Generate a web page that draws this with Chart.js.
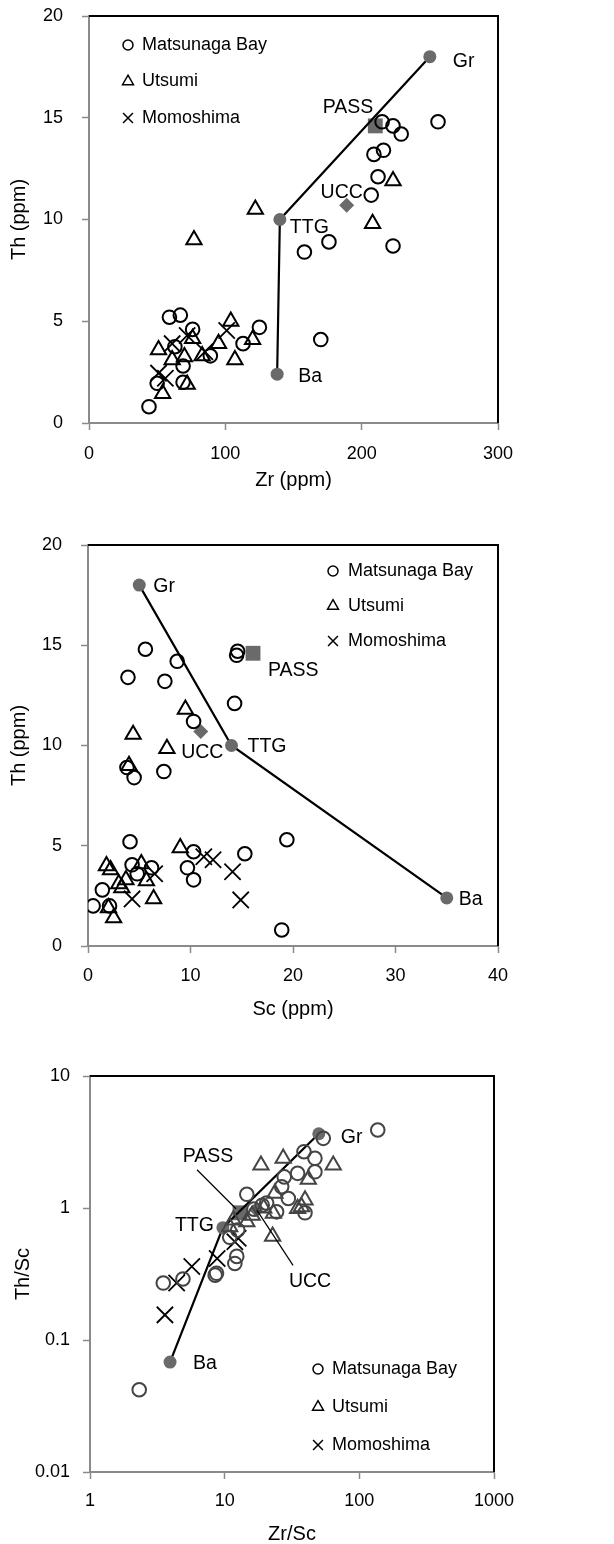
<!DOCTYPE html>
<html>
<head>
<meta charset="utf-8">
<script src="https://cdn.jsdelivr.net/npm/chart.js@4.4.1/dist/chart.umd.min.js"></script>
<style>
  body { margin: 0; background: #fff; }
  canvas { position: absolute; left: 0; }
</style>
</head>
<body>
<canvas id="zrTh" width="614" height="510" style="top:0px"></canvas>
<canvas id="scTh" width="614" height="520" style="top:510px"></canvas>
<canvas id="ratios" width="614" height="514" style="top:1030px"></canvas>
<script>
// ---- panel 1: Zr vs Th (ppm)
const matsunagaZr = [215, 223, 229, 256, 209, 216, 212, 207, 223, 176, 158, 170, 125, 113, 59, 67, 76, 89, 69, 69, 50, 44, 63];
const matsunagaTh = [14.8, 14.6, 14.2, 14.8, 13.2, 13.4, 12.1, 11.2, 8.7, 8.9, 8.4, 4.1, 4.7, 3.9, 5.2, 5.3, 4.6, 3.3, 2.8, 2.0, 1.95, 0.8, 3.75];
const utsumiZr = [122, 77, 223, 208, 104, 120, 95, 107, 83, 51, 54, 72, 70, 61, 76];
const utsumiTh = [10.5, 9.0, 11.9, 9.8, 5.0, 4.1, 3.9, 3.1, 3.3, 3.6, 1.45, 1.9, 3.25, 3.1, 4.15];
const momoshimaZr = [101, 72, 85, 61, 51, 56];
const momoshimaTh = [4.55, 4.3, 3.5, 3.9, 2.45, 2.2];

// ---- panel 2: Sc vs Th (ppm)
const matsunagaSc = [5.6, 8.7, 3.9, 7.5, 14.6, 14.5, 14.3, 10.3, 3.8, 4.5, 7.4, 4.1, 19.4, 15.3, 10.3, 9.7, 10.3, 4.3, 4.8, 6.2, 1.4, 0.5, 2.1, 18.9];
const matsunagaThSc2 = [14.8, 14.2, 13.4, 13.2, 14.7, 14.5, 12.1, 11.2, 8.9, 8.4, 8.7, 5.2, 5.3, 4.6, 4.7, 3.9, 3.3, 4.05, 3.6, 3.9, 2.8, 2.0, 2.0, 0.8];
const utsumiSc = [9.5, 4.4, 7.7, 4.0, 9.0, 1.8, 2.2, 5.2, 3.7, 3.0, 3.3, 5.7, 6.4, 2.0, 2.5];
const utsumiThSc2 = [11.8, 10.55, 9.85, 9.0, 4.9, 4.0, 3.8, 4.1, 3.3, 3.1, 2.9, 3.25, 2.35, 1.9, 1.4];
const momoshimaSc = [6.5, 11.3, 12.2, 14.1, 14.9, 4.3];
const momoshimaThSc2 = [3.6, 4.45, 4.3, 3.7, 2.3, 2.35];

// ---- panel 3: Zr/Sc vs Th/Sc (log-log)
const matsunagaZrSc = [137, 54, 38.8, 46.8, 46.8, 34.8, 27.7, 26.5, 14.6, 29.7, 20.5, 24.3, 39.5, 10.9, 12.3, 11.9, 8.7, 3.5, 4.9, 8.5, 2.32, 19, 16.5, 12.5];
const matsunagaThScR = [3.9, 3.37, 2.67, 2.38, 1.88, 1.83, 1.72, 1.45, 1.27, 1.18, 1.09, 0.935, 0.92, 0.6, 0.43, 0.38, 0.32, 0.27, 0.29, 0.31, 0.042, 1.05, 0.98, 0.68];
const utsumiZrSc = [18.6, 27.2, 64, 41.8, 23.6, 39.5, 23, 34.8, 22.7, 11.6, 14.6, 10.9, 37.2, 16, 19.5];
const utsumiThScR = [2.11, 2.38, 2.11, 1.65, 1.29, 1.15, 0.91, 0.99, 0.61, 0.81, 0.785, 0.72, 1.02, 0.88, 1.0];
const momoshimaZrSc = [5.7, 8.8, 11.9, 12.6, 4.4, 3.6];
const momoshimaThScR = [0.36, 0.415, 0.555, 0.59, 0.27, 0.155];

// end members (granite, TTG, basalt) and reference composites
const memberNames = ['Gr', 'TTG', 'Ba'];
const memberZr = [250, 140, 138];
const memberTh = [18, 10, 2.4];
const memberSc = [5, 14, 35];
const memberZrSc = [50, 9.7, 3.93];
const memberThSc = [3.65, 0.71, 0.068];
const refNames = ['PASS', 'UCC'];
const refZr = [210, 189];
const refTh = [14.6, 10.7];
const refSc = [16.1, 11];
const refZrSc = [13, 17.1];
const refThSc = [0.92, 0.975];

Chart.defaults.font.family = '"Liberation Sans", Arial, Helvetica, sans-serif';
Chart.defaults.font.size = 18;
Chart.defaults.color = '#000';
Chart.defaults.animation = false;

const AXIS_GREY = '#8a8a8a';
const MEMBER_GREY = '#6a6a6a';
const KEY_FONT = '18px "Liberation Sans", Arial, Helvetica, sans-serif';
const NAME_FONT = '19.5px "Liberation Sans", Arial, Helvetica, sans-serif';

function pts(xs, ys) {
  return xs.map((v, i) => ({ x: v, y: ys[i] }));
}

function sampleSets(xs, ys, ink) {
  const hollow = 'rgba(0,0,0,0)';
  return [
    { label: 'Matsunaga Bay', data: pts(xs[0], ys[0]), pointStyle: 'circle', pointRadius: 6.8,
      pointBorderWidth: 2, borderColor: ink, backgroundColor: hollow },
    { label: 'Utsumi', data: pts(xs[1], ys[1]), pointStyle: 'triangle', pointRadius: 8.8,
      pointBorderWidth: 2, borderColor: ink, backgroundColor: hollow },
    { label: 'Momoshima', data: pts(xs[2], ys[2]), pointStyle: 'crossRot', pointRadius: 11.5,
      pointBorderWidth: 1.8, borderColor: '#000', backgroundColor: hollow }
  ];
}

function refSets(mx, my, rx, ry) {
  return [
    { label: 'members', data: pts(mx, my), showLine: true, borderColor: '#000', borderWidth: 2.2,
      pointStyle: 'circle', pointRadius: 6.5, pointBackgroundColor: MEMBER_GREY,
      pointBorderColor: MEMBER_GREY, pointBorderWidth: 0 },
    { label: 'PASS', data: [{ x: rx[0], y: ry[0] }], pointStyle: 'rect', pointRadius: 10.5,
      backgroundColor: MEMBER_GREY, borderColor: MEMBER_GREY, pointBorderWidth: 0 },
    { label: 'UCC', data: [{ x: rx[1], y: ry[1] }], pointStyle: 'rectRot', pointRadius: 7.5,
      backgroundColor: MEMBER_GREY, borderColor: MEMBER_GREY, pointBorderWidth: 0 }
  ];
}

// black top and right edges of the plot frame
const frameEdges = {
  id: 'frameEdges',
  beforeDatasetsDraw(chart) {
    const { ctx, chartArea: a } = chart;
    ctx.save();
    ctx.strokeStyle = '#000';
    ctx.lineWidth = 2;
    ctx.beginPath();
    ctx.moveTo(a.left, a.top);
    ctx.lineTo(a.right, a.top);
    ctx.lineTo(a.right, a.bottom);
    ctx.stroke();
    ctx.restore();
  }
};

// marker key drawn inside the plot
const seriesKey = {
  id: 'seriesKey',
  afterDraw(chart, args, o) {
    const ctx = chart.ctx;
    const sizes = [5, 6.3, 7];
    ctx.save();
    ctx.font = KEY_FONT;
    ctx.textBaseline = 'middle';
    chart.data.datasets.slice(0, 3).forEach((ds, i) => {
      const y = o.y + i * o.gap;
      ctx.strokeStyle = '#000';
      ctx.fillStyle = 'rgba(0,0,0,0)';
      ctx.lineWidth = 1.5;
      Chart.helpers.drawPoint(ctx, { pointStyle: ds.pointStyle, radius: sizes[i], borderWidth: 1.5, rotation: 0 }, o.x, y);
      ctx.fillStyle = '#000';
      ctx.textAlign = 'left';
      ctx.fillText(ds.label, o.textX, y);
    });
    ctx.restore();
  }
};

// names next to end members and composites
const endLabels = {
  id: 'endLabels',
  afterDatasetsDraw(chart, args, o) {
    const { ctx, scales: { x, y } } = chart;
    ctx.save();
    ctx.font = NAME_FONT;
    ctx.fillStyle = '#000';
    ctx.strokeStyle = '#000';
    ctx.textBaseline = 'middle';
    for (const lb of o.items) {
      const px = x.getPixelForValue(lb.x);
      const py = y.getPixelForValue(lb.y);
      ctx.textAlign = lb.align || 'left';
      ctx.fillText(lb.text, px + lb.dx, py + lb.dy);
      if (lb.lead) {
        ctx.lineWidth = 1.2;
        ctx.beginPath();
        ctx.moveTo(px + lb.lead[0], py + lb.lead[1]);
        ctx.lineTo(px + lb.lead[2], py + lb.lead[3]);
        ctx.stroke();
      }
    }
    ctx.restore();
  }
};

function axisGrid() {
  return { drawOnChartArea: false, drawTicks: true, tickLength: 7, tickColor: AXIS_GREY, tickWidth: 1.5 };
}

// the plot box is fixed, so the axes give up their label overhang padding
function clearPad(s) {
  s.paddingTop = 0;
  s.paddingBottom = 0;
  s.paddingLeft = 0;
  s.paddingRight = 0;
}

function panel(id, box, xScale, yScale, datasets, key, labels) {
  const canvas = document.getElementById(id);
  const xh = box.xh;
  xScale.grid = axisGrid();
  yScale.grid = axisGrid();
  xScale.border = { color: AXIS_GREY, width: 2 };
  yScale.border = { color: AXIS_GREY, width: 2 };
  xScale.position = 'bottom';
  yScale.position = 'left';
  xScale.afterFit = s => { s.height = xh; clearPad(s); };
  yScale.afterFit = s => { s.width = box.left; clearPad(s); };
  return new Chart(canvas, {
    type: 'scatter',
    data: { datasets },
    options: {
      responsive: false,
      layout: { padding: { left: 0, top: box.top, right: canvas.width - box.right, bottom: canvas.height - box.bottom - xh } },
      scales: { x: xScale, y: yScale },
      plugins: {
        legend: { display: false },
        tooltip: { enabled: false },
        seriesKey: key,
        endLabels: { items: labels }
      }
    },
    plugins: [frameEdges, seriesKey, endLabels]
  });
}

function titleOpt(text, pad) {
  return { display: true, text, font: { size: 20, lineHeight: 1 }, padding: pad };
}

const decade = v => String(v);

// panel 1
panel('zrTh', { left: 89, top: 16, right: 498, bottom: 423, xh: 67 },
  { type: 'linear', min: 0, max: 300, ticks: { stepSize: 100, padding: 13 }, title: titleOpt('Zr (ppm)', { top: 0, bottom: 0 }) },
  { type: 'linear', min: 0, max: 20, ticks: { stepSize: 5, padding: 19 }, title: titleOpt('Th (ppm)', { top: 9, bottom: 0 }) },
  sampleSets([matsunagaZr, utsumiZr, momoshimaZr], [matsunagaTh, utsumiTh, momoshimaTh], '#000')
    .concat(refSets(memberZr, memberTh, refZr, refTh)),
  { x: 128, y: 45, gap: 36.5, textX: 142 },
  [
    { text: memberNames[0], x: memberZr[0], y: memberTh[0], dx: 23, dy: 5 },
    { text: memberNames[1], x: memberZr[1], y: memberTh[1], dx: 10, dy: 8 },
    { text: memberNames[2], x: memberZr[2], y: memberTh[2], dx: 21, dy: 2 },
    { text: refNames[0], x: refZr[0], y: refTh[0], dx: -2, dy: -18, align: 'right' },
    { text: refNames[1], x: refZr[1], y: refTh[1], dx: -5, dy: -13, align: 'center' }
  ]);

// panel 2
panel('scTh', { left: 88, top: 35, right: 498, bottom: 436, xh: 73 },
  { type: 'linear', min: 0, max: 40, ticks: { stepSize: 10, padding: 12 }, title: titleOpt('Sc (ppm)', { top: 0, bottom: 0 }) },
  { type: 'linear', min: 0, max: 20, ticks: { stepSize: 5, padding: 19 }, title: titleOpt('Th (ppm)', { top: 9, bottom: 0 }) },
  sampleSets([matsunagaSc, utsumiSc, momoshimaSc], [matsunagaThSc2, utsumiThSc2, momoshimaThSc2], '#000')
    .concat(refSets(memberSc, memberTh, refSc, refTh)),
  { x: 333, y: 61, gap: 35, textX: 348 },
  [
    { text: memberNames[0], x: memberSc[0], y: memberTh[0], dx: 14, dy: 2 },
    { text: memberNames[1], x: memberSc[1], y: memberTh[1], dx: 16, dy: 1 },
    { text: memberNames[2], x: memberSc[2], y: memberTh[2], dx: 12, dy: 2 },
    { text: refNames[0], x: refSc[0], y: refTh[0], dx: 15, dy: 17 },
    { text: refNames[1], x: refSc[1], y: refTh[1], dx: 1.5, dy: 21, align: 'center' }
  ]);

// panel 3
panel('ratios', { left: 90, top: 46, right: 494, bottom: 442, xh: 72 },
  { type: 'logarithmic', min: 1, max: 1000, ticks: { padding: 11, callback: decade },
    afterBuildTicks: s => { s.ticks = [1, 10, 100, 1000].map(v => ({ value: v })); },
    title: titleOpt('Zr/Sc', { top: 0, bottom: 0 }) },
  { type: 'logarithmic', min: 0.01, max: 10, ticks: { padding: 13, callback: decade },
    afterBuildTicks: s => { s.ticks = [0.01, 0.1, 1, 10].map(v => ({ value: v })); },
    title: titleOpt('Th/Sc', { top: 13, bottom: 0 }) },
  sampleSets([matsunagaZrSc, utsumiZrSc, momoshimaZrSc], [matsunagaThScR, utsumiThScR, momoshimaThScR], '#444')
    .concat(refSets(memberZrSc, memberThSc, refZrSc, refThSc)),
  { x: 318, y: 339, gap: 38, textX: 332 },
  [
    { text: memberNames[0], x: memberZrSc[0], y: memberThSc[0], dx: 22, dy: 4 },
    { text: memberNames[1], x: memberZrSc[1], y: memberThSc[1], dx: -9, dy: -2, align: 'right' },
    { text: memberNames[2], x: memberZrSc[2], y: memberThSc[2], dx: 23, dy: 2 },
    { text: refNames[0], x: refZrSc[0], y: refThSc[0], dx: -32, dy: -56, align: 'center', lead: [-43, -43, -4, -4] },
    { text: refNames[1], x: refZrSc[1], y: refThSc[1], dx: 54, dy: 72, align: 'center', lead: [1, 1, 37, 56] }
  ]);
</script>
</body>
</html>
